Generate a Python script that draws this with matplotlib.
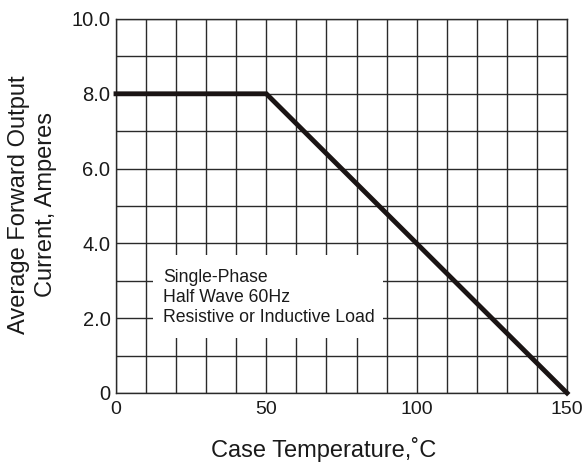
import matplotlib
matplotlib.use("Agg")
import matplotlib.pyplot as plt
from matplotlib.patches import Rectangle

plt.rcParams['font.family'] = ['Liberation Sans', 'DejaVu Sans']

# Data
temperature = [0, 50, 150]
current = [8.0, 8.0, 0.0]
x_ticks = [0, 50, 100, 150]
x_tick_labels = ["0", "50", "100", "150"]
y_ticks = [0, 2, 4, 6, 8, 10]
y_tick_labels = ["0", "2.0", "4.0", "6.0", "8.0", "10.0"]
note_lines = ["Single-Phase", "Half Wave 60Hz", "Resistive or Inductive Load"]

fig = plt.figure(figsize=(5.86, 4.68), dpi=100)
ax = fig.add_axes([116/586, 1-393/468, (567-116)/586, (393-19)/468])

ax.set_xlim(0, 150)
ax.set_ylim(0, 10)
ax.set_xticks(x_ticks)
ax.set_xticklabels(x_tick_labels)
ax.set_xticks(range(0, 151, 10), minor=True)
ax.set_yticks(y_ticks)
ax.set_yticklabels(y_tick_labels)
ax.set_yticks(range(0, 11), minor=True)
ax.tick_params(which='both', length=0)
ax.tick_params(axis='x', labelsize=14, pad=6, colors='#1a1a1a')
ax.tick_params(axis='y', labelsize=14.5, pad=4, colors='#1a1a1a')
ax.grid(which='both', color='#2a2a2a', linewidth=1.0, zorder=1)
for s in ax.spines.values():
    s.set_color('#2a2a2a')
    s.set_linewidth(1.0)
ax.set_axisbelow(True)

# Note box (white background covering grid)
ax.add_patch(Rectangle((12.3, 1.47), 88.8-12.3, 3.69-1.47, facecolor='white',
                       edgecolor='none', zorder=2))
ax.text(15.6, 2.55, "\n".join(note_lines), fontsize=12.7, color='#1a1a1a',
        ha='left', va='center', linespacing=1.25, zorder=3)

ax.plot(temperature, current, color='#1a1414', linewidth=3.5,
        solid_joinstyle='miter', zorder=4, clip_on=False)

ax.set_xlabel("Case Temperature,˚C", fontsize=17, color='#1a1a1a')
ax.xaxis.set_label_coords(0.461, -0.152)
ax.xaxis.label.set_va('center')
ax.set_ylabel("Average Forward Output\nCurrent, Amperes", fontsize=17,
              color='#1a1a1a', linespacing=1.3)
ax.yaxis.set_label_coords(-0.185, 0.503)
ax.yaxis.label.set_va('center')

fig.savefig("out.png", dpi=100)
